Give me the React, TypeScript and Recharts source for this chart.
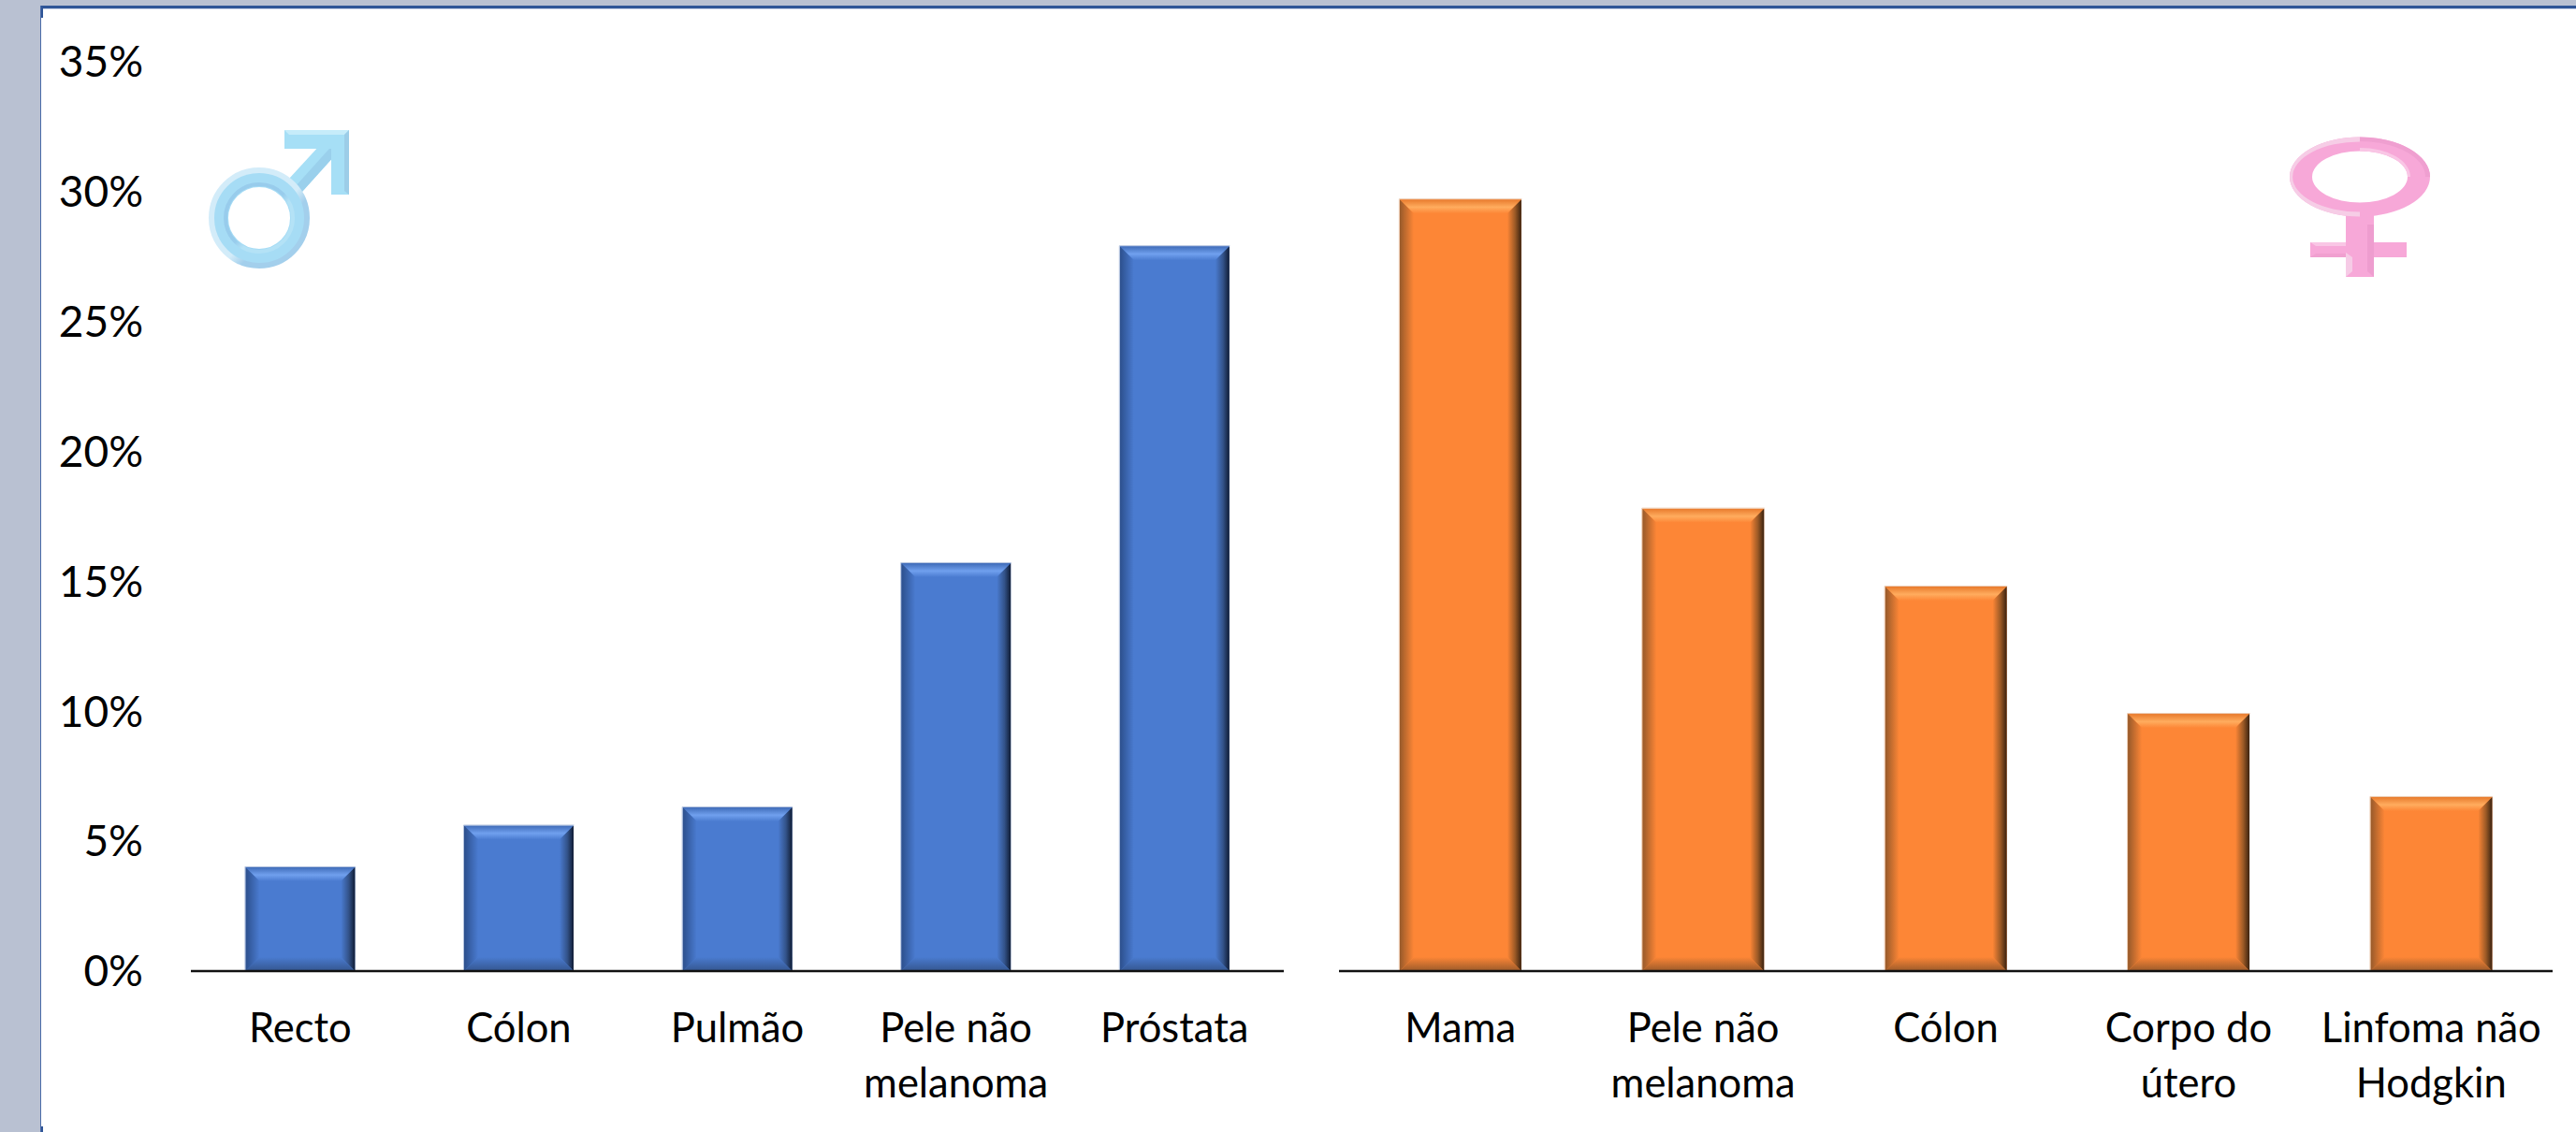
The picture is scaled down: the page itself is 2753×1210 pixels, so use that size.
import { BarChart, Bar, XAxis, YAxis } from 'recharts';

const maleCategories = ['Recto', 'Cólon', 'Pulmão', 'Pele não\nmelanoma', 'Próstata'];
const maleValues = [4.0, 5.6, 6.3, 15.7, 27.9];
const femaleCategories = ['Mama', 'Pele não\nmelanoma', 'Cólon', 'Corpo do\nútero', 'Linfoma não\nHodgkin'];
const femaleValues = [29.7, 17.8, 14.8, 9.9, 6.7];
const yTicks = [0, 5, 10, 15, 20, 25, 30, 35];

const maleData = maleCategories.map((name, i) => ({ name, value: maleValues[i] }));
const femaleData = femaleCategories.map((name, i) => ({ name, value: femaleValues[i] }));

const FONT = 'Lato, sans-serif';
const Y_FONT_SIZE = 46;
const X_FONT_SIZE = 43.5;
const BEVEL = 15;

const blue = { fill: '#4A7BD0', topEdge: '#3F6BB8', shine: '#70A0EE', left: '#2C4F8C', right: '#101C34', rightMid: '#33538A', bottom: '#34568F', halo: '#B4C3DE' };
const orange = { fill: '#FD8636', topEdge: '#E87A2C', shine: '#FFAC5E', left: '#96592A', right: '#3A2210', rightMid: '#9C5A26', bottom: '#9A5A2A', halo: '#EBC9B0' };

type Shades = typeof blue;

const BevelDefs = ({ id, c }: { id: string; c: Shades }) => (
  <defs>
    <linearGradient id={id + '-top'} x1="0" y1="0" x2="0" y2="1">
      <stop offset="0%" stopColor={c.topEdge} />
      <stop offset="55%" stopColor={c.shine} />
      <stop offset="100%" stopColor={c.fill} />
    </linearGradient>
    <linearGradient id={id + '-left'} x1="0" y1="0" x2="1" y2="0">
      <stop offset="0%" stopColor={c.left} />
      <stop offset="100%" stopColor={c.fill} />
    </linearGradient>
    <linearGradient id={id + '-right'} x1="0" y1="0" x2="1" y2="0">
      <stop offset="0%" stopColor={c.fill} />
      <stop offset="55%" stopColor={c.rightMid} />
      <stop offset="100%" stopColor={c.right} />
    </linearGradient>
    <linearGradient id={id + '-bottom'} x1="0" y1="0" x2="0" y2="1">
      <stop offset="0%" stopColor={c.fill} />
      <stop offset="100%" stopColor={c.bottom} />
    </linearGradient>
  </defs>
);

// bevelled bar, like the office "3-D format" look
const makeBevelBar = (id: string, c: Shades) => (props: any) => {
  const { x, y, width, height } = props;
  const r = x + width;
  const b = y + height;
  const s = BEVEL;
  return (
    <g>
      <rect x={x} y={y} width={width} height={height} fill={c.fill} />
      <polygon points={`${x},${y} ${r},${y} ${r - s},${y + s} ${x + s},${y + s}`} fill={`url(#${id}-top)`} />
      <polygon points={`${x},${y} ${x + s},${y + s} ${x + s},${b - s} ${x},${b}`} fill={`url(#${id}-left)`} />
      <polygon points={`${r},${y} ${r},${b} ${r - s},${b - s} ${r - s},${y + s}`} fill={`url(#${id}-right)`} />
      <polygon points={`${x},${b} ${x + s},${b - s} ${r - s},${b - s} ${r},${b}`} fill={`url(#${id}-bottom)`} />
      <path d={`M${x - 0.5},${b} V${y - 0.5} H${r + 0.5}`} fill="none" stroke={c.halo} strokeWidth={1} />
    </g>
  );
};

const CategoryTick = (props: any) => {
  const { x, y, payload } = props;
  const lines: string[] = String(payload.value).split('\n');
  return (
    <text x={x} y={y} textAnchor="middle" fontFamily={FONT} fontSize={X_FONT_SIZE} fill="#000">
      {lines.map((line, i) => (
        <tspan key={i} x={x} dy={i === 0 ? 76 : 59}>{line}</tspan>
      ))}
    </text>
  );
};

const MaleSymbol = () => (
  <svg width={200} height={180} style={{ position: 'absolute', left: 200, top: 120, filter: 'blur(0.5px)' }}>
    <defs>
      <linearGradient id="m-outer" x1="0" y1="0" x2="1" y2="1">
        <stop offset="0%" stopColor="#D3ECF9" />
        <stop offset="55%" stopColor="#D3ECF9" />
        <stop offset="65%" stopColor="#A3CFEC" />
        <stop offset="100%" stopColor="#A3CFEC" />
      </linearGradient>
      <linearGradient id="m-inner" x1="0" y1="0" x2="1" y2="1">
        <stop offset="0%" stopColor="#98CCEC" />
        <stop offset="50%" stopColor="#98CCEC" />
        <stop offset="60%" stopColor="#B4E2F6" />
        <stop offset="100%" stopColor="#B4E2F6" />
      </linearGradient>
    </defs>
    <polygon points="108,72 122,86 167,36 153,23" fill="#A6DFF6" />
    <polygon points="122,86 167,36 160,30 115,80" fill="#9AD0EC" />
    <polygon points="104,19 173,19 173,88 154,88 154,39 104,39" fill="#A6DFF6" />
    <polygon points="104,19 173,19 168,24 109,24" fill="#C6ECFA" />
    <polygon points="173,19 173,88 168,84 168,24" fill="#9CCDE8" />
    <circle cx={77} cy={113} r={43} fill="none" stroke="#A6DCF5" strokeWidth={20} />
    <circle cx={77} cy={113} r={51} fill="none" stroke="url(#m-outer)" strokeWidth={6} />
    <circle cx={77} cy={113} r={36} fill="none" stroke="url(#m-inner)" strokeWidth={4} />
  </svg>
);

const FemaleSymbol = () => (
  <svg width={200} height={200} style={{ position: 'absolute', left: 2422, top: 120, filter: 'blur(0.5px)' }}>
    <polygon points="85,100 115,100 115,176 85,176" fill="#F7A8D8" />
    <polygon points="47,139 150,139 150,155 47,155" fill="#F7A8D8" />
    <polygon points="47,139 85,139 85,143 53,143" fill="#F9C6E5" />
    <polygon points="47,155 53,151 85,151 85,155" fill="#F0A0D0" />
    <polygon points="85,150 92,155 92,170 85,176" fill="#F6CBE6" />
    <polygon points="115,120 108,120 108,170 115,176" fill="#EE9DCF" />
    <path
      d="M25,69 a75,42.5 0 1,0 150,0 a75,42.5 0 1,0 -150,0 Z M49,69 a51,27.5 0 1,0 102,0 a51,27.5 0 1,0 -102,0 Z"
      fill="#F7A8D8"
      fillRule="evenodd"
    />
    <path d="M100,26.5 a75,42.5 0 0,0 0,85 v-5 a69,36 0 0,1 0,-75 Z" fill="#F6CDE6" />
    <path d="M100,41.5 a51,27.5 0 0,1 51,27.5 h3 a54,31 0 0,0 -54,-31 Z" fill="#F9C6E5" />
    <path d="M100,26.5 a75,42.5 0 0,1 75,42.5 h-5 a70,38 0 0,0 -70,-38 Z" fill="#EF9FD0" />
  </svg>
);

const App = () => {
  const maleBar = makeBevelBar('blue', blue);
  const femaleBar = makeBevelBar('orange', orange);
  return (
    <div style={{ position: 'absolute', left: 0, top: 0, width: 2753, height: 1210, background: '#B9C1D2', overflow: 'hidden' }}>
      <div style={{ position: 'absolute', left: 43, top: 6, right: 0, height: 3, background: '#2F5597' }} />
      <div style={{ position: 'absolute', left: 43, top: 6, bottom: 0, width: 1, background: '#4A6BA8' }} />
      <div style={{ position: 'absolute', left: 44, top: 9, right: 0, bottom: 0, background: '#fff' }} />
      <div style={{ position: 'absolute', left: 44, top: 9, right: 0, height: 1, background: '#C5D0E6' }} />
      <div style={{ position: 'absolute', left: 44, top: 9, width: 2, height: 10, background: '#2F5597' }} />
      <div style={{ position: 'absolute', left: 44, top: 1204, width: 2, height: 6, background: '#2F5597' }} />

      <div style={{ position: 'absolute', left: 0, top: 0 }}>
        <BarChart width={1400} height={1210} data={maleData} barCategoryGap="25%" margin={{ top: 66, right: 28, bottom: 0, left: 0 }}>
          <BevelDefs id="blue" c={blue} />
          <XAxis dataKey="name" height={172} interval={0} tickLine={false} tickSize={0} tickMargin={0} axisLine={{ stroke: '#111', strokeWidth: 2.5 }} tick={<CategoryTick />} />
          <YAxis width={204} domain={[0, 35]} ticks={yTicks} tickFormatter={(v: number) => `${v}%`} axisLine={false} tickLine={false} tickSize={0} tickMargin={51} tick={{ fontFamily: FONT, fontSize: Y_FONT_SIZE, fill: '#000' }} />
          <Bar dataKey="value" fill={blue.fill} shape={maleBar} isAnimationActive={false} />
        </BarChart>
      </div>

      <div style={{ position: 'absolute', left: 1431, top: 0 }}>
        <BarChart width={1297} height={1210} data={femaleData} barCategoryGap="25%" margin={{ top: 66, right: 0, bottom: 0, left: 0 }}>
          <BevelDefs id="orange" c={orange} />
          <XAxis dataKey="name" height={172} interval={0} tickLine={false} tickSize={0} tickMargin={0} axisLine={{ stroke: '#111', strokeWidth: 2.5 }} tick={<CategoryTick />} />
          <YAxis hide domain={[0, 35]} ticks={yTicks} />
          <Bar dataKey="value" fill={orange.fill} shape={femaleBar} isAnimationActive={false} />
        </BarChart>
      </div>

      <MaleSymbol />
      <FemaleSymbol />
    </div>
  );
};

export default App;
